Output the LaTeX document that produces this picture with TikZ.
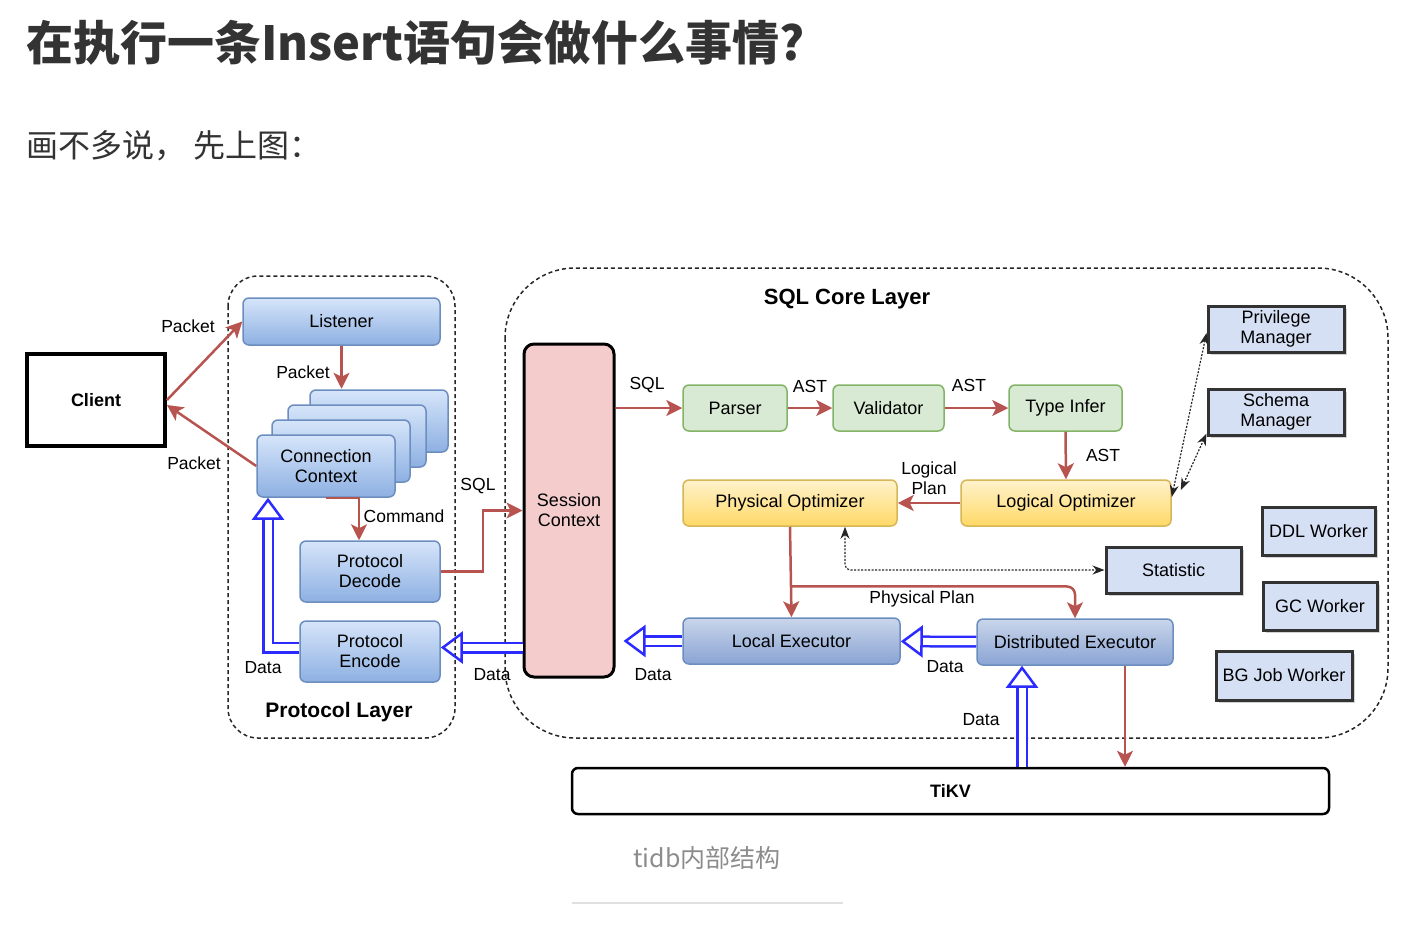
\documentclass[tikz,border=0pt]{standalone}
\usepackage{fontspec}
\setmainfont{Liberation Sans}
\newfontfamily\cjk{Noto Sans CJK SC}
\usetikzlibrary{arrows.meta}
\usetikzlibrary{shadows}
\usetikzlibrary{calc}
\definecolor{redline}{HTML}{B85450}
\definecolor{bluedata}{HTML}{2B2BFF}
\definecolor{blueborder}{HTML}{6C8EBF}
\definecolor{bluetop}{HTML}{D6E5FA}
\definecolor{bluebot}{HTML}{8DB0E2}
\definecolor{exectop}{HTML}{C9D5EA}
\definecolor{execbot}{HTML}{8AA4D4}
\definecolor{greenfill}{HTML}{D8EAD3}
\definecolor{greenborder}{HTML}{82B366}
\definecolor{yellowtop}{HTML}{FFF2CC}
\definecolor{yellowbot}{HTML}{FFD966}
\definecolor{yellowborder}{HTML}{D6B656}
\definecolor{pinkfill}{HTML}{F4CCCC}
\definecolor{mgrfill}{HTML}{D6E0F5}
\definecolor{titlegray}{HTML}{333333}
\tikzset{
	txt/.style={font=\fontsize{18}{20}\selectfont, align=center, inner sep=0pt},
	lbl/.style={font=\fontsize{17.5}{19}\selectfont, inner sep=1pt},
	bluebox/.style={txt, draw=blueborder, line width=1.5pt, top color=bluetop, bottom color=bluebot, rounded corners=6pt},
	execbox/.style={bluebox, top color=exectop, bottom color=execbot},
	greenbox/.style={txt, draw=greenborder, line width=1.5pt, fill=greenfill, rounded corners=6pt},
	yellowbox/.style={txt, draw=yellowborder, line width=1.5pt, top color=yellowtop, bottom color=yellowbot, rounded corners=6pt},
	mgrbox/.style={txt, draw=black!80, line width=3pt, fill=mgrfill, drop shadow={shadow xshift=3pt, shadow yshift=-3pt, fill=black!35, opacity=0.5}},
	layer/.style={draw=black!85, line width=1.5pt, dash pattern=on 4pt off 3pt},
	flow/.style={draw=redline, line width=2.5pt, -{Stealth[length=16pt, width=16pt, inset=4pt]}},
	data/.style={draw=bluedata, line width=2.5pt, double=white, double distance=7pt, -{Triangle[open, length=22pt, width=32pt, line width=2.5pt]}},
	dot/.style={draw=black!85, line width=1.2pt, dash pattern=on 2pt off 1.5pt, {Stealth[length=12pt, width=9pt]}-{Stealth[length=12pt, width=9pt]}}
}
\begin{document}
\begin{tikzpicture}[x=1pt, y=-1pt]
	\useasboundingbox (0,0) rectangle (1420,924);

	% headings
	\node[anchor=base west, inner sep=0pt, text=titlegray, font=\cjk\bfseries\fontsize{47}{50}\selectfont] (title) at (26,60) {在执行一条Insert语句会做什么事情?};
	\node[anchor=base west, inner sep=0pt, text=titlegray, font=\cjk\fontsize{32}{36}\selectfont] (intro) at (26,157) {画不多说， 先上图：};

	% layers
	\draw[layer, rounded corners=30pt] (228,276) rectangle (455,738);
	\draw[layer, rounded corners=70pt] (505,268) rectangle (1388,738);
	\node[txt, font=\bfseries\fontsize{21}{23}\selectfont] (protolayer) at (339,712) {Protocol Layer};
	\node[txt, font=\bfseries\fontsize{22}{24}\selectfont] (corelayer) at (847,299) {SQL Core Layer};

	% client and protocol layer
	\node[txt, draw, line width=4pt, minimum width=138pt, minimum height=92pt, font=\bfseries\fontsize{18}{20}\selectfont] (client) at (96,400) {Client};
	\node[bluebox, minimum width=197pt, minimum height=47pt] (listener) at (341.5,321.5) {Listener};
	\foreach \dx/\dy in {53/-45, 31/-30, 15/-15} {
		\node[bluebox, minimum width=138pt, minimum height=62pt] at (326+\dx,466+\dy) {};
	}
	\node[bluebox, minimum width=138pt, minimum height=62pt] (conn) at (326,466) {Connection\\Context};
	\node[bluebox, minimum width=140pt, minimum height=61pt] (pdec) at (370,571.5) {Protocol\\Decode};
	\node[bluebox, minimum width=140pt, minimum height=61pt] (penc) at (370,651.5) {Protocol\\Encode};

	% sql core layer
	\node[txt, draw, line width=3pt, fill=pinkfill, rounded corners=10pt, minimum width=90pt, minimum height=333pt] (sess) at (569,510.5) {Session\\Context};
	\node[greenbox, minimum width=104pt, minimum height=46pt] (parser) at (735,408) {Parser};
	\node[greenbox, minimum width=111pt, minimum height=46pt] (valid) at (888.5,408) {Validator};
	\node[greenbox, minimum width=113pt, minimum height=46pt] (tinfer) at (1065.5,408) {Type Infer};
	\node[yellowbox, minimum width=210pt, minimum height=46pt] (lopt) at (1066,503) {Logical Optimizer};
	\node[yellowbox, minimum width=214pt, minimum height=46pt] (popt) at (790,503) {Physical Optimizer};
	\node[execbox, minimum width=217pt, minimum height=46pt] (lexec) at (791.5,641) {Local Executor};
	\node[execbox, minimum width=196pt, minimum height=46pt] (dexec) at (1075,642) {Distributed Executor};
	\node[mgrbox, minimum width=135pt, minimum height=46pt] (stat) at (1173.5,570) {Statistic};
	\node[mgrbox, minimum width=136pt, minimum height=46pt] (priv) at (1276,329) {Privilege\\Manager};
	\node[mgrbox, minimum width=136pt, minimum height=46pt] (schema) at (1276,412) {Schema\\Manager};
	\node[mgrbox, minimum width=113pt, minimum height=48pt] (ddl) at (1318.5,531) {DDL Worker};
	\node[mgrbox, minimum width=114pt, minimum height=48pt] (gc) at (1320,606) {GC Worker};
	\node[mgrbox, minimum width=136pt, minimum height=49pt] (bg) at (1284,675.5) {BG Job Worker};

	% storage
	\node[txt, draw, line width=2.5pt, fill=white, rounded corners=6pt, minimum width=757pt, minimum height=46pt, font=\bfseries\fontsize{18}{20}\selectfont] (tikv) at (950.5,791) {TiKV};

	% protocol arrows
	\draw[flow] (client.east) -- (listener.west);
	\draw[flow] (conn.west) -- ([yshift=-5pt]client.east);
	\draw[flow] (listener.south) -- ([yshift=-43pt]listener.south);
	\draw[flow] (conn.south) -| ([xshift=-11pt]pdec.north);
	\draw[flow] (pdec.east) -- ++(42,0) |- (sess.west);
	\draw[data] ([yshift=4pt]sess.west |- penc.east) -- ([yshift=4pt]penc.east);
	\draw[data] ([yshift=4pt]penc.west) -| ([xshift=-58pt]conn.south);

	% core arrows
	\draw[flow] (sess.east |- parser.west) -- (parser.west);
	\draw[flow] (parser) -- (valid);
	\draw[flow] (valid) -- (tinfer);
	\draw[flow] (tinfer.south) -- (lopt.north);
	\draw[flow] (lopt) -- (popt);
	\draw[flow] (popt.south) -- (lexec.north);
	\draw[flow, rounded corners=8pt] ($(popt.south)!0.66!(lexec.north)$) -| (dexec.north);
	\draw[data] (dexec) -- (lexec);
	\draw[data, shorten >=8pt] (lexec.west) -- (sess.east |- lexec.west);
	\draw[data] ([xshift=-53pt]dexec.south |- tikv.north) -- ([xshift=-53pt]dexec.south);
	\draw[flow] ([xshift=50pt]dexec.south) -- ([xshift=50pt]dexec.south |- tikv.north);
	\draw[dot, rounded corners=6pt] ([xshift=55pt]popt.south) |- (stat.west);
	\draw[dot] ([yshift=6pt]lopt.east) -- ([yshift=-4pt]priv.west);
	\draw[dot] ([xshift=9pt, yshift=13pt]lopt.east) -- ([yshift=3pt]schema.south west);

	% labels
	\node[lbl] at (188,326) {Packet};
	\node[lbl] at (303,372) {Packet};
	\node[lbl] at (194,463) {Packet};
	\node[lbl] at (404,516) {Command};
	\node[lbl] at (478,486) {SQL};
	\node[lbl] at (263,668) {Data};
	\node[lbl] at (492,675) {Data};
	\node[lbl] at (647,385) {SQL};
	\node[lbl] at (810,386) {AST};
	\node[lbl] at (969,385) {AST};
	\node[lbl] at (1103,455) {AST};
	\node[lbl, align=center, font=\fontsize{17.5}{20}\selectfont] at (929,478) {Logical\\Plan};
	\node[lbl] at (922,599) {Physical Plan};
	\node[lbl] at (653,675) {Data};
	\node[lbl] at (945,667) {Data};
	\node[lbl] at (981,720) {Data};

	% caption
	\node[anchor=base, inner sep=0pt, text=black!45, font=\cjk\fontsize{25}{29}\selectfont] (caption) at (707,867) {tidb内部结构};
	\draw[black!12, line width=2pt] (572,903) -- (843,903);
\end{tikzpicture}
\end{document}
